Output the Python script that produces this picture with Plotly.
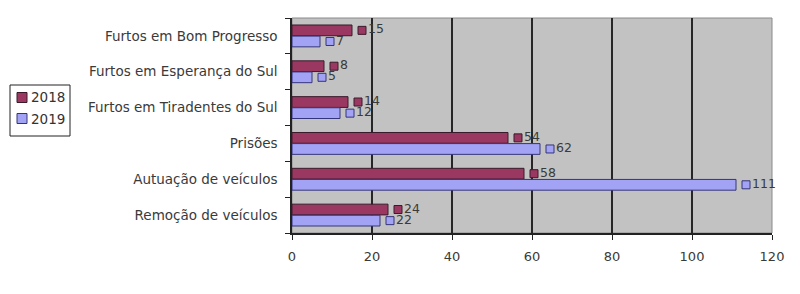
import plotly.graph_objects as go

# Categories from bottom to top (as drawn)
categories = [
    "Remoção de veículos",
    "Autuação de veículos",
    "Prisões",
    "Furtos em Tiradentes do Sul",
    "Furtos em Esperança do Sul",
    "Furtos em Bom Progresso",
]
values_2018 = [24, 58, 54, 14, 8, 15]
values_2019 = [22, 111, 62, 12, 5, 7]
series_names = ["2018", "2019"]
x_ticks = [0, 20, 40, 60, 80, 100, 120]

# Styling / layout constants
W, H = 800, 294
L, R, T, B = 292, 28, 18, 61
PW, PH = W - L - R, H - T - B
XMAX = 120
px_per_unit = PW / XMAX
bar_w = 0.3
off = 0.155
label_gap_units = 10 / px_per_unit

col18, line18 = "#9b3862", "#3a1a2a"
col19, line19 = "#a3a3f5", "#34347a"
font = "DejaVu Sans, Verdana, sans-serif"
txtcol = "#3a3a3a"


def px_x(px):
    return (px - L) / PW


def px_y(py):
    return 1 - (py - T) / PH


pos = list(range(len(categories)))
y18 = [p + off for p in pos]
y19 = [p - off for p in pos]

fig = go.Figure()
fig.add_trace(go.Bar(y=y18, x=values_2018, orientation="h", width=bar_w, name=series_names[0],
                     marker=dict(color=col18, line=dict(color=line18, width=1)), showlegend=False))
fig.add_trace(go.Bar(y=y19, x=values_2019, orientation="h", width=bar_w, name=series_names[1],
                     marker=dict(color=col19, line=dict(color=line19, width=1)), showlegend=False))

for ys, vals, c, lc in [(y18, values_2018, col18, line18), (y19, values_2019, col19, line19)]:
    fig.add_trace(go.Scatter(y=ys, x=[v + label_gap_units for v in vals], mode="markers+text",
                             text=[str(v) for v in vals], textposition="middle right",
                             textfont=dict(family=font, size=12.5, color=txtcol),
                             marker=dict(symbol="square", size=8, color=c, line=dict(color=lc, width=1)),
                             showlegend=False, cliponaxis=False, hoverinfo="skip"))

# Manual legend (compact box like the original)
fig.add_shape(type="rect", xref="paper", yref="paper", x0=px_x(10), x1=px_x(70),
              y0=px_y(136), y1=px_y(85), line=dict(color="#222", width=1), fillcolor="white")
for i, (name, c, lc) in enumerate([(series_names[0], col18, line18), (series_names[1], col19, line19)]):
    cy = 97.5 + i * 21
    fig.add_shape(type="rect", xref="paper", yref="paper", x0=px_x(17), x1=px_x(27),
                  y0=px_y(cy + 5), y1=px_y(cy - 5), line=dict(color=lc, width=1), fillcolor=c)
    fig.add_annotation(xref="paper", yref="paper", x=px_x(29), y=px_y(cy), text=name,
                       showarrow=False, xanchor="left", yanchor="middle",
                       font=dict(family=font, size=13.5, color="#333"))

fig.update_layout(
    width=W, height=H,
    margin=dict(l=L, r=R, t=T, b=B),
    paper_bgcolor="white",
    plot_bgcolor="#c2c2c2",
    barmode="overlay",
    font=dict(family=font, size=13, color=txtcol),
    showlegend=False,
)
fig.update_xaxes(range=[0, XMAX], tickvals=x_ticks, showgrid=True, gridcolor="#262626", gridwidth=1.6,
                 zeroline=False, showline=True, linecolor="#222", linewidth=1.5, mirror=False,
                 ticks="outside", ticklen=5, tickcolor="#222", ticklabelstandoff=6,
                 tickfont=dict(family=font, size=13, color=txtcol))
fig.update_yaxes(range=[-0.5, len(categories) - 0.5], tickvals=pos, ticktext=categories,
                 ticks="", showgrid=False, zeroline=False, showline=True, linecolor="#222", linewidth=1.5,
                 tickfont=dict(family=font, size=13.5, color=txtcol), ticklabelstandoff=10,
                 minor=dict(tickvals=[p - 0.5 for p in pos] + [len(categories) - 0.5],
                            ticks="outside", ticklen=5, tickcolor="#222", showgrid=False))
# light top/right frame
fig.add_shape(type="rect", xref="paper", yref="paper", x0=0, y0=0, x1=1, y1=1,
              line=dict(color="#8a8a8a", width=1), layer="below")

fig.write_html("out.html")
